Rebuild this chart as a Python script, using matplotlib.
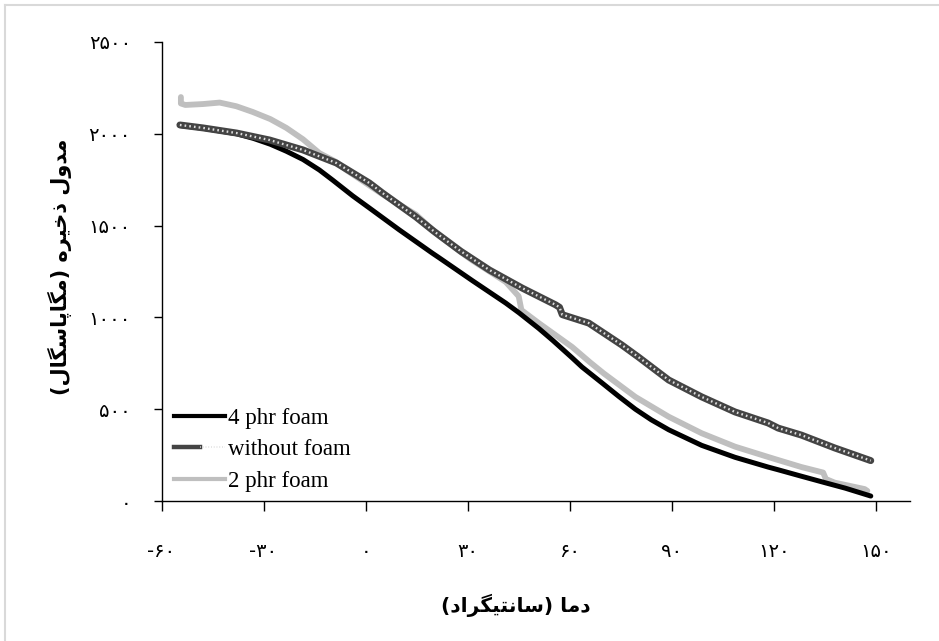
import matplotlib
matplotlib.use("Agg")
import matplotlib.pyplot as plt
from matplotlib.lines import Line2D
from matplotlib.legend_handler import HandlerTuple

# Storage modulus vs temperature
temp_4phr = [-54.6, -47.8, -37.9, -33.0, -28.0, -23.3, -18.4, -13.6, -9.7, -3.8, 1.1, 9.8,
             19.6, 21.6, 31.4, 41.2, 45.1, 50.9, 55.0, 60.7, 63.6, 69.5, 74.4, 79.3, 84.0,
             89.1, 98.8, 108.6, 118.3, 121.3, 128.1, 135.0, 141.0, 148.5]
mod_4phr = [2045, 2030, 2000, 1975, 1943, 1905, 1860, 1803, 1748, 1662, 1596, 1478,
            1350, 1325, 1200, 1078, 1025, 940, 875, 780, 730, 643, 570, 500, 442,
            388, 303, 238, 185, 170, 135, 100, 70, 27]

temp_none = [-54.6, -47.8, -37.9, -28.2, -18.4, -8.6, 1.1, 5.0, 14.8, 20.0, 28.0, 36.4,
             46.0, 55.9, 57.0, 57.8, 65.6, 75.3, 80.2, 89.1, 98.8, 108.6, 118.3, 121.3,
             128.1, 137.9, 148.5]
mod_none = [2048, 2032, 2004, 1966, 1912, 1841, 1732, 1677, 1547, 1470, 1360, 1258,
            1160, 1068, 1055, 1015, 969, 850, 784, 659, 567, 485, 425, 397,
            359, 289, 220]

temp_2phr = [-54.3, -54.3, -53.0, -47.8, -42.9, -38.0, -33.2, -28.0, -23.3, -18.4, -13.6,
             -9.0, -5.7, 1.0, 5.0, 14.8, 21.6, 29.5, 31.4, 41.2, 45.0, 45.8, 50.9, 60.7,
             66.0, 70.0, 79.3, 89.1, 98.8, 108.6, 118.3, 121.3, 128.1, 134.5, 135.3, 137.9,
             146.7, 147.5]
mod_2phr = [2200, 2165, 2157, 2162, 2170, 2150, 2119, 2080, 2032, 1970, 1895,
            1850, 1803, 1720, 1670, 1560, 1445, 1335, 1310, 1193, 1115, 1040, 969, 839,
            755, 695, 567, 459, 369, 296, 240, 223, 185, 155, 120, 100,
            65, 55]

x_ticks = [-60, -30, 0, 30, 60, 90, 120, 150]
x_tick_labels = ['-۶۰', '-۳۰', '۰', '۳۰', '۶۰', '۹۰', '۱۲۰', '۱۵۰']
y_ticks = [0, 500, 1000, 1500, 2000, 2500]
y_tick_labels = ['۰', '۵۰۰', '۱۰۰۰', '۱۵۰۰', '۲۰۰۰', '۲۵۰۰']

x_label = 'دما (سانتیگراد)'
y_label = 'مدول ذخیره (مگاپاسگال)'

# matplotlib has no Arabic shaping, so pick presentation forms by hand
FORMS = {
    'ا': ('\uFE8D', '\uFE8E', None, None),
    'د': ('\uFEA9', '\uFEAA', None, None),
    'ذ': ('\uFEAB', '\uFEAC', None, None),
    'ر': ('\uFEAD', '\uFEAE', None, None),
    'و': ('\uFEED', '\uFEEE', None, None),
    'م': ('\uFEE1', '\uFEE2', '\uFEE3', '\uFEE4'),
    'ل': ('\uFEDD', '\uFEDE', '\uFEDF', '\uFEE0'),
    'خ': ('\uFEA5', '\uFEA6', '\uFEA7', '\uFEA8'),
    'ی': ('\uFBFC', '\uFBFD', '\uFBFE', '\uFBFF'),
    'ه': ('\uFEE9', '\uFEEA', '\uFEEB', '\uFEEC'),
    'گ': ('\uFB92', '\uFB93', '\uFB94', '\uFB95'),
    'پ': ('\uFB56', '\uFB57', '\uFB58', '\uFB59'),
    'س': ('\uFEB1', '\uFEB2', '\uFEB3', '\uFEB4'),
    'ن': ('\uFEE5', '\uFEE6', '\uFEE7', '\uFEE8'),
    'ت': ('\uFE95', '\uFE96', '\uFE97', '\uFE98'),
}


def shape(text):
    out = []
    for i, ch in enumerate(text):
        if ch not in FORMS:
            out.append(ch)
            continue
        prev = text[i - 1] if i > 0 else ''
        nxt = text[i + 1] if i + 1 < len(text) else ''
        join_prev = prev in FORMS and FORMS[prev][2] is not None
        join_next = nxt in FORMS and FORMS[ch][2] is not None
        iso, fin, ini, med = FORMS[ch]
        if join_prev and join_next:
            out.append(med)
        elif join_prev:
            out.append(fin)
        elif join_next:
            out.append(ini)
        else:
            out.append(iso)
    vis = ''.join(reversed(out))
    return vis.translate(str.maketrans('()', ')('))


plt.rcParams['font.family'] = ['DejaVu Sans']

fig = plt.figure(figsize=(9.39, 6.41), dpi=100)
ax = fig.add_axes([0.172, 0.2184, 0.797, 0.7161])

ax.plot(temp_2phr, mod_2phr, color='#bfbfbf', lw=4.2, solid_capstyle='round', zorder=2)
ax.plot(temp_4phr, mod_4phr, color='black', lw=3.6, solid_capstyle='round', zorder=3)
ax.plot(temp_none, mod_none, color='#444444', lw=5.0, solid_capstyle='round', zorder=4)
ax.plot(temp_none, mod_none, color='#dcdcdc', lw=1.7, linestyle=(0, (0.7, 1.3)), zorder=5)

ax.set_xlim(-60, 160)
ax.set_ylim(0, 2500)
ax.set_xticks(x_ticks)
ax.set_xticklabels(x_tick_labels)
ax.set_yticks(y_ticks)
ax.set_yticklabels(y_tick_labels)
ax.tick_params(axis='x', direction='out', length=7.5, width=1, pad=22, labelsize=14)
ax.tick_params(axis='y', direction='out', length=6, width=1, pad=16, labelsize=14)
for s in ['top', 'right']:
    ax.spines[s].set_visible(False)
for s in ['left', 'bottom']:
    ax.spines[s].set_linewidth(1)

# legend
h_black = Line2D([], [], color='black', lw=3)
h_none = (Line2D([], [], color='#444444', lw=3.2),
          Line2D([], [], color='#dcdcdc', lw=1.1, linestyle=(0, (0.6, 1.2))))
h_gray = Line2D([], [], color='#bfbfbf', lw=3)
ax.legend([h_black, h_none, h_gray], ['4 phr foam', 'without foam', '2 phr foam'],
          handler_map={tuple: HandlerTuple(ndivide=None, pad=0)},
          loc='lower left', bbox_to_anchor=(0.005, 0.0), frameon=False,
          prop={'family': 'Liberation Serif', 'size': 16.5},
          handlelength=2.2, handletextpad=0.15, labelspacing=0.45, borderaxespad=0)

fig.text(516 / 939, 1 - 605 / 641, shape(x_label), ha='center', va='center',
         fontsize=14.5, fontweight='bold')
fig.text(60 / 939, 1 - 267 / 641, shape(y_label), ha='center', va='center',
         rotation=90, fontsize=15, fontweight='bold')

# light frame (top and left edges)
fig.add_artist(Line2D([5 / 939, 5 / 939], [0, 1 - 5 / 641], transform=fig.transFigure,
                      color='#d9d9d9', lw=1.5))
fig.add_artist(Line2D([5 / 939, 1], [1 - 5 / 641, 1 - 5 / 641], transform=fig.transFigure,
                      color='#d9d9d9', lw=1.5))

fig.savefig('out.png', dpi=100)
